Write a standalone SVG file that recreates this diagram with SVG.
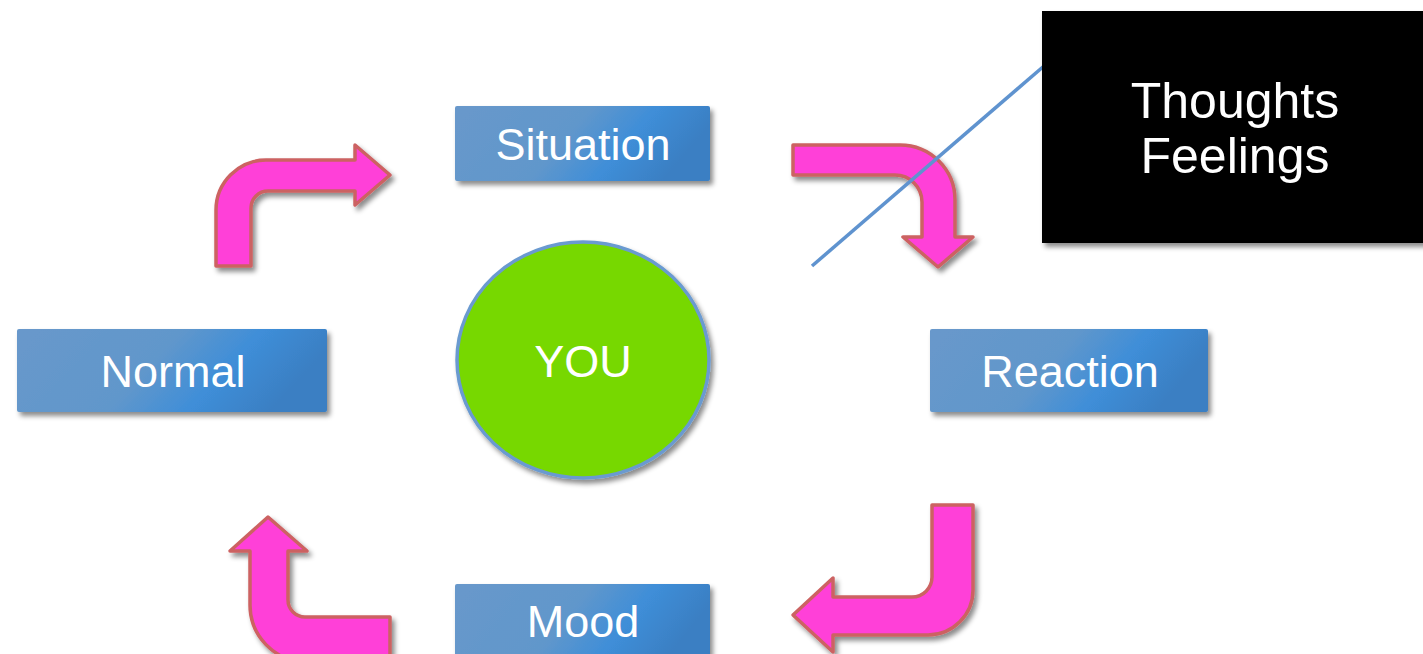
<svg xmlns="http://www.w3.org/2000/svg" width="1423" height="654" viewBox="0 0 1423 654">
  <defs>
    <linearGradient id="boxGrad" x1="0" y1="0" x2="1" y2="0.25">
      <stop offset="0" stop-color="#6898cb"/>
      <stop offset="0.5" stop-color="#6197cb"/>
      <stop offset="0.75" stop-color="#3f8ed8"/>
      <stop offset="1" stop-color="#3a7fc3"/>
    </linearGradient>
    <filter id="shadow" x="-10%" y="-10%" width="130%" height="140%">
      <feDropShadow dx="3" dy="4" stdDeviation="2.5" flood-color="#000" flood-opacity="0.45"/>
    </filter>
    <style>
      .box { fill: url(#boxGrad); filter: url(#shadow); }
      .lbl { fill: #ffffff; font-family: "Liberation Sans", Arial, sans-serif; font-size: 45px; text-anchor: middle; }
      .big { font-size: 50px; }
      .arrow { fill: #ff40d8; stroke: #cc6262; stroke-width: 3.5; stroke-linejoin: round; filter: url(#shadow); }
    </style>
  </defs>
  <rect width="1423" height="654" fill="#ffffff"/>

  <g id="connectors">
    <path class="arrow" d="M216,266 L216,210 A50,50 0 0 1 266,160 L355,160 L355,145 L390,175 L355,205 L355,191 L268,191 A17,17 0 0 0 251,208 L251,266 Z"/>
    <path class="arrow" d="M793,145 L900,145 A55,55 0 0 1 955,200 L955,237 L973,237 L938,267 L903,237 L922,237 L922,202 A27,27 0 0 0 895,175 L793,175 Z"/>
    <path class="arrow" d="M932,505 L973,505 L973,590 A45,45 0 0 1 928,635 L833,635 L833,652 L793,615 L833,578 L833,597 L912,597 A20,20 0 0 0 932,577 Z"/>
    <path class="arrow" d="M390,617 L390,662 L305,662 A57,57 0 0 1 250,605 L250,551 L230,551 L268,517 L307,551 L288,551 L288,600 A17,17 0 0 0 305,617 Z"/>
    <line x1="812" y1="266" x2="1044" y2="66" stroke="#5f93cf" stroke-width="3.5"/>
  </g>

  <g id="situation">
    <rect class="box" x="455" y="106" width="255" height="75" rx="2"/>
    <text class="lbl" x="583" y="160">Situation</text>
  </g>
  <g id="normal">
    <rect class="box" x="17" y="329" width="310" height="83" rx="2"/>
    <text class="lbl" x="173" y="387">Normal</text>
  </g>
  <g id="reaction">
    <rect class="box" x="930" y="329" width="278" height="83" rx="2"/>
    <text class="lbl" x="1070" y="387">Reaction</text>
  </g>
  <g id="mood">
    <rect class="box" x="455" y="584" width="255" height="80" rx="2"/>
    <text class="lbl" x="583" y="637">Mood</text>
  </g>
  <g id="you">
    <ellipse cx="583" cy="360" rx="126" ry="118" fill="#77d800" stroke="#6a9ad0" stroke-width="3.5" filter="url(#shadow)"/>
    <text class="lbl" x="583" y="377">YOU</text>
  </g>
  <g id="thoughts">
    <rect x="1042" y="11" width="395" height="232" fill="#000000" filter="url(#shadow)"/>
    <text class="lbl big" x="1235" y="118">Thoughts</text>
    <text class="lbl big" x="1235" y="173">Feelings</text>
  </g>
</svg>
